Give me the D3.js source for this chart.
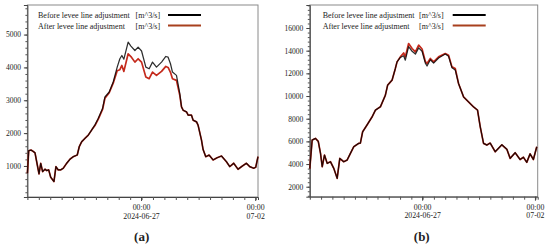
<!DOCTYPE html>
<html>
<head>
<meta charset="utf-8">
<script src="https://cdn.jsdelivr.net/npm/d3@7"></script>
<style>
  html, body { margin: 0; padding: 0; background: #fff; }
  svg { display: block; }
  text { font-family: "Liberation Serif", "DejaVu Serif", serif; fill: #222; }
</style>
</head>
<body>
<svg id="chart" width="550" height="247"></svg>
<script>
// ---- data (hours since 2024-06-22 00:00) ----
const startDate = "2024-06-22T00:00:00Z";
const hoursA = [0,1.4,3.8,6.2,8,10.4,12.2,14,16,18.5,20.3,22.4,24.5,27.9,30,32.4,35,37.7,41.3,44.7,48.2,52.4,54.5,57,60.5,64,67.5,71,74.4,79,81.5,86,90.2,94.4,97.2,99.3,101.4,105.9,108.8,113,116.4,120,124.5,128,131.5,135.7,141,145.5,147.9,150.4,152.5,156.7,160.2,162,163.7,167.3,169,172.5,174.2,177.8,179.4,183,184.7,187.5,191,195.2,199.4,204,209.2,212.7,216.9,221.4,226,230.2,233.7,237.9,240,242.4];
const beforeA = [780,1464,1485,1440,1400,1030,758,1082,827,900,860,879,657,524,979,879,880,930,1082,1203,1283,1333,1585,1736,1838,1939,2091,2250,2445,2748,3100,3252,3555,4009,4263,4364,4250,4767,4650,4515,4616,4500,4009,3960,4161,4009,4161,4333,4312,4112,3858,3758,3200,2797,2697,2645,2545,2545,2394,2342,2242,1788,1500,1282,1333,1182,1250,1303,1130,979,1082,900,1000,1082,979,930,960,1282];
const afterA  = [780,1464,1485,1440,1400,1030,758,1082,827,900,860,879,657,524,979,879,880,930,1082,1203,1283,1333,1585,1736,1838,1939,2091,2230,2420,2720,3060,3230,3520,3900,3930,4060,3880,4415,4330,4161,4263,4161,3706,3657,3858,3758,3880,4030,4000,3850,3657,3606,3150,2797,2697,2645,2545,2545,2394,2342,2242,1788,1500,1282,1333,1182,1250,1303,1130,979,1082,900,1000,1082,979,930,960,1282];

const hoursB = [0,2.5,6,9,11.4,13.2,15.6,18.5,22,25.5,29.1,31.9,36.1,39.7,43.2,46.7,52,53.8,56.2,60.9,66.3,69.8,75.1,80.4,82.8,87.5,91,92.8,96.3,99.8,101.6,105.1,108.8,112.3,115.8,119.4,122.9,124.7,128.2,131.7,137,144.1,147.6,151.2,154.7,158.2,163.5,168.8,174.1,178.4,181.3,184.8,188.4,191.9,197.2,204.3,209.6,213.1,218.4,223.7,227.2,230.8,234.3,237.8,241.4];
const beforeB = [3600,6115,6264,6000,4943,3762,4793,4062,4203,3621,2740,4502,4203,4350,4943,5524,5824,5850,6846,7450,8167,8758,9048,10079,10960,11401,12432,13013,13400,13550,13163,14350,13950,13700,14250,13950,12900,12650,13200,12900,13350,13700,13500,12500,12300,11110,9930,9489,9048,8758,7286,5824,5674,5850,5084,5700,5300,4502,5000,4400,4600,4150,4900,4400,5524];
const afterB  = [3600,6115,6264,6000,4943,3762,4793,4062,4203,3621,2740,4502,4203,4350,4943,5524,5824,5850,6846,7450,8167,8758,9048,10079,10960,11401,12432,13013,13454,13800,13450,14634,14193,13894,14485,14150,13050,12872,13313,13013,13454,13753,13600,12573,12432,11110,9930,9489,9048,8758,7286,5824,5674,5850,5084,5700,5300,4502,5000,4400,4600,4150,4900,4400,5524];

const yTicksA = [1000,2000,3000,4000,5000];
const yTicksB = [2000,4000,6000,8000,10000,12000,14000,16000];
const xMajorTicks = ["2024-06-27T00:00:00Z","2024-07-02T00:00:00Z"];
const xTickLabels = [["00:00","2024-06-27"],["00:00","07-02"]];
const seriesNames = ["Before levee line adjustment","After levee line adjustment"];
const unitLabel = "[m^3/s]";
const panelLabels = ["(a)","(b)"];

// ---- drawing ----
const svg = d3.select("#chart");
const t0 = new Date(startDate);
const toDate = h => new Date(t0.getTime() + h*3600e3);
const SERIF = "Liberation Serif";

function panel(cfg) {
  const {left, right, top, bottom, yDomain, yTicks, yMinor, hours, before, after, label, legX, unitX, legLineX} = cfg;
  const x = d3.scaleUtc().domain([toDate(0), toDate(242.4)]).range([left, right]);
  const y = d3.scaleLinear().domain(yDomain).range([bottom, top]);
  const g = svg.append("g");

  // frame
  g.append("rect").attr("x", left).attr("y", top).attr("width", right-left).attr("height", bottom-top)
    .attr("fill", "none").attr("stroke", "#8a8a8a").attr("stroke-width", 1);

  // y axis minor ticks
  const minorVals = d3.range(Math.ceil(yDomain[0]/yMinor)*yMinor, yDomain[1], yMinor);
  g.append("g").attr("transform", `translate(${left},0)`)
    .call(d3.axisLeft(y).tickValues(minorVals).tickSize(2).tickFormat(""))
    .call(s => s.select(".domain").remove())
    .selectAll("line").attr("stroke", "#555");
  // y major
  const ya = g.append("g").attr("transform", `translate(${left},0)`)
    .call(d3.axisLeft(y).tickValues(yTicks).tickSize(3.5).tickPadding(3).tickFormat(d3.format("d")));
  ya.attr("font-family", SERIF);
  ya.select(".domain").attr("stroke", "#444");
  ya.selectAll("line").attr("stroke", "#444");
  ya.selectAll("text").style("font-size", "7.5px").style("font-family", SERIF).attr("fill", "#333");

  // x minor ticks every 12 h
  const minorX = d3.utcHour.every(12).range(toDate(1), toDate(242.4));
  g.append("g").attr("transform", `translate(0,${bottom})`)
    .call(d3.axisBottom(x).tickValues(minorX).tickSize(3).tickFormat(""))
    .call(s => s.select(".domain").attr("stroke", "#444"))
    .selectAll("line").attr("stroke", "#555");
  // x major labels
  xMajorTicks.forEach((d, i) => {
    const px = x(new Date(d));
    g.append("line").attr("x1", px).attr("x2", px).attr("y1", bottom).attr("y2", bottom+4).attr("stroke", "#444");
    g.append("text").attr("x", px).attr("y", bottom+13).attr("text-anchor", "middle")
      .style("font-size", "7.8px").style("font-family", SERIF).attr("fill", "#333").text(xTickLabels[i][0]);
    g.append("text").attr("x", px).attr("y", bottom+21.5).attr("text-anchor", "middle")
      .style("font-size", "7.8px").style("font-family", SERIF).attr("fill", "#333").text(xTickLabels[i][1]);
  });

  // lines
  const line = d3.line().x(d => x(toDate(d[0]))).y(d => y(d[1])).curve(d3.curveLinear);
  g.append("path").datum(hours.map((h,i)=>[h, after[i]])).attr("d", line)
    .attr("fill","none").attr("stroke","#c42a1c").attr("stroke-width",1.7).attr("stroke-linejoin","round");
  g.append("path").datum(hours.map((h,i)=>[h, before[i]])).attr("d", line)
    .attr("fill","none").attr("stroke","#000").attr("stroke-width",1.25).attr("stroke-opacity",0.82).attr("stroke-linejoin","round");

  // legend
  const rows = [{name: seriesNames[0], color: "#000", yy: 15}, {name: seriesNames[1], color: "#a8401e", yy: 25.5}];
  rows.forEach(r => {
    const t = g.append("text").attr("x", legX).attr("y", r.yy + 3).style("font-size", "8px")
      .style("font-family", SERIF).attr("fill", "#111").text(r.name);
    const w = t.node().getComputedTextLength();
    const ux = Math.max(unitX, legX + w + 3);
    g.append("text").attr("x", ux).attr("y", r.yy + 3).style("font-size", "8px")
      .style("font-family", SERIF).attr("fill", "#111").text(unitLabel);
    g.append("line").attr("x1", legLineX).attr("x2", legLineX+33).attr("y1", r.yy).attr("y2", r.yy)
      .attr("stroke", r.color).attr("stroke-width", 2);
  });

  // panel label
  g.append("text").attr("x", (left+right)/2 + (cfg.labelDx||0)).attr("y", 240.5).attr("text-anchor","middle")
    .style("font-size","13px").style("font-weight","bold").style("font-family", SERIF).attr("fill","#000").text(label);
}

panel({left: 27.4, right: 258, top: 5, bottom: 197, yDomain: [55, 5900], yTicks: yTicksA, yMinor: 200,
  hours: hoursA, before: beforeA, after: afterA, label: panelLabels[0], legX: 38, unitX: 135.5, legLineX: 168, labelDx: -1});
panel({left: 309.8, right: 537.7, top: 5, bottom: 196.7, yDomain: [1120, 18030], yTicks: yTicksB, yMinor: 400,
  hours: hoursB, before: beforeB, after: afterB, label: panelLabels[1], legX: 322.7, unitX: 419, legLineX: 452.7, labelDx: -2});
</script>
</body>
</html>
